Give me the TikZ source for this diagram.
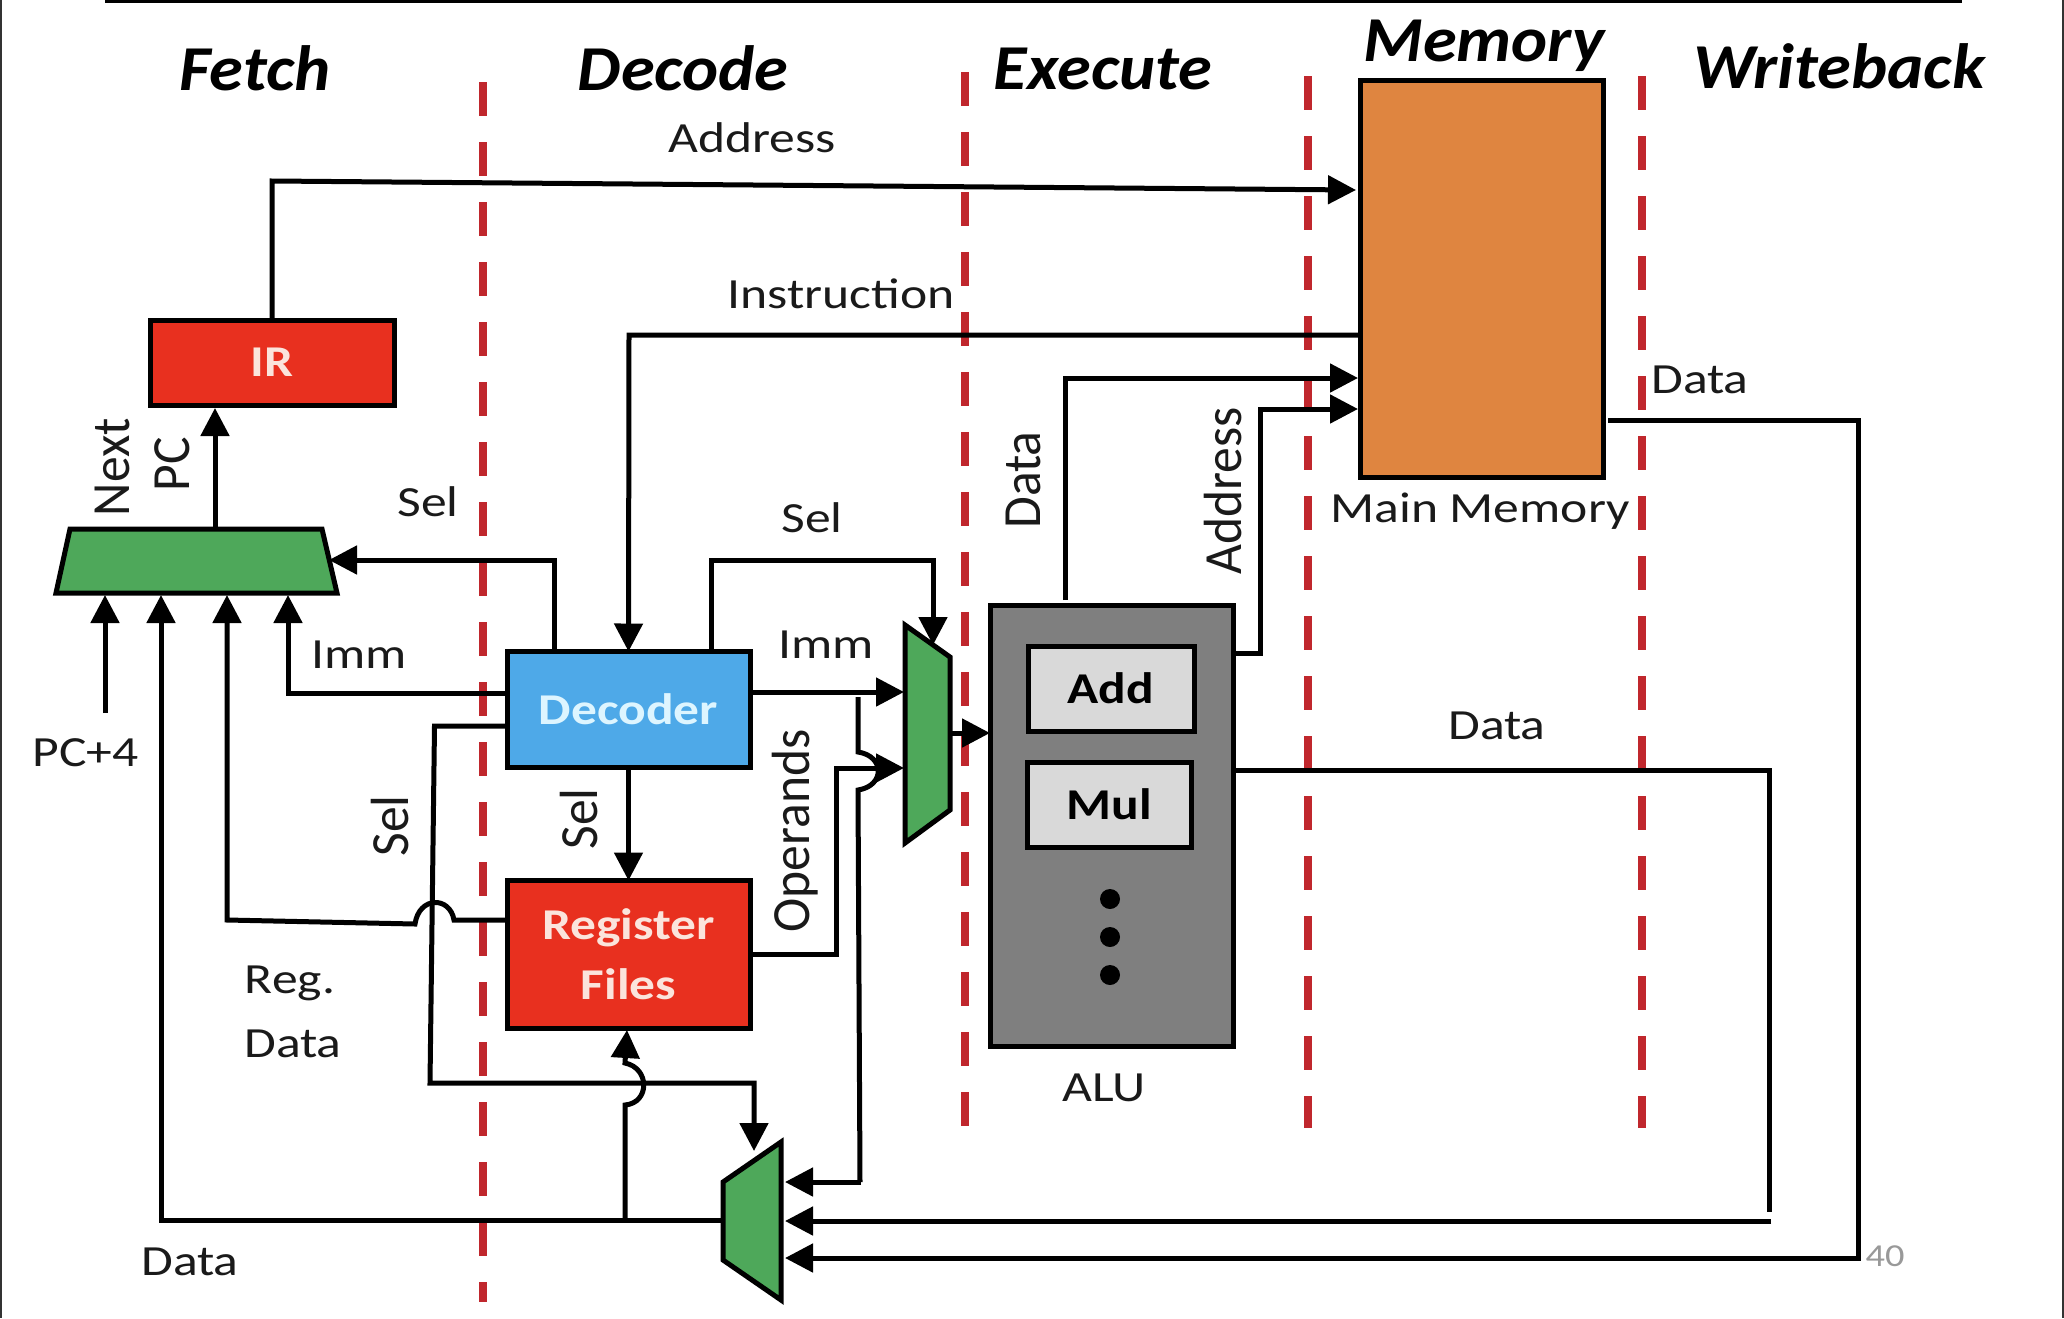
\documentclass[tikz,border=0pt]{standalone}
\usepackage{graphicx}
\usepackage{fontspec}
\setmainfont{Carlito}
\usetikzlibrary{arrows.meta}
\definecolor{txt}{HTML}{1A1A1A}
\definecolor{redbox}{HTML}{E8301F}
\definecolor{bluebox}{HTML}{4EA9E8}
\definecolor{orangebox}{HTML}{DF8540}
\definecolor{muxgreen}{HTML}{4EA85A}
\definecolor{alugrey}{HTML}{7F7F7F}
\definecolor{unitgrey}{HTML}{D9D9D9}
\definecolor{stage}{HTML}{C0272D}
\definecolor{declabel}{HTML}{DDF5FF}
\definecolor{redlabel}{HTML}{FBE4DC}
\newcommand{\wideboxtext}[1]{\scalebox{1.17}[1]{#1}}
\tikzset{
  lab/.style={font=\fontsize{43}{50}\selectfont, text=txt, inner sep=0pt, xscale=1.2},
  rlab/.style={font=\fontsize{43}{50}\selectfont, text=txt, inner sep=0pt, xscale=1.25, yscale=1.2, rotate=90},
  head/.style={font=\fontsize{64}{70}\selectfont\bfseries\itshape, text=black, inner sep=0pt, xscale=1.07},
  blk/.style={draw=black, line width=5pt, inner sep=0pt, outer sep=0pt, align=center},
  muxframe/.style={inner sep=0pt, outer sep=0pt},
  muxshape/.style={draw=black, fill=muxgreen, line width=5pt, line join=miter},
  wire/.style={draw=black, line width=5pt, line join=miter},
  arr/.style={wire, -{Triangle[length=28pt,width=28pt]}},
  stageline/.style={draw=stage, line width=8pt, dash pattern=on 34pt off 26pt},
}
\begin{document}
\begin{tikzpicture}[x=1pt,y=-1pt]
\useasboundingbox (0,0) rectangle (2064,1318);
\fill[white] (0,0) rectangle (2064,1318);
% frame
\draw[black,line width=3pt] (105,1) -- (1962,1);
\draw[black!80,line width=2.5pt] (1,0) -- (1,1318);
\draw[black!80,line width=2pt] (2063,0) -- (2063,1318);
% stage separators
\draw[stageline] (482.5,82) -- (482.5,1302);
\draw[stageline] (965,72) -- (965,1128);
\draw[stageline] (1308,76) -- (1308,1128);
\draw[stageline] (1642,76) -- (1642,1128);
% stage titles
\node[head] (hfetch) at (255,68) {Fetch};
\node[head] (hdecode) at (683,68) {Decode};
\node[head] (hexec) at (1103,69) {Execute};
\node[head] (hmem) at (1484,46) {Memory};
\node[head] (hwb) at (1839,66) {Writeback};
% blocks
\node[blk,fill=redbox,minimum width=244pt,minimum height=85pt,text=redlabel,font=\fontsize{44}{48}\selectfont\bfseries] (ir) at (272,362.5) {\wideboxtext{IR}};
\node[blk,fill=orangebox,minimum width=243pt,minimum height=397pt] (mem) at (1481.5,278.5) {};
\node[blk,fill=bluebox,minimum width=243pt,minimum height=115.5pt,text=declabel,font=\fontsize{44}{50}\selectfont\bfseries] (decoder) at (628.5,709.25) {\wideboxtext{Decoder}};
\node[blk,fill=redbox,minimum width=243pt,minimum height=147.5pt,text=redlabel,font=\fontsize{44}{60}\selectfont\bfseries] (regs) at (628.5,954.25) {\wideboxtext{Register}\\\wideboxtext{Files}};
\node[blk,fill=alugrey,minimum width=243pt,minimum height=441pt] (alu) at (1111.5,825.5) {};
\node[blk,fill=unitgrey,minimum width=166pt,minimum height=85pt,text=black,font=\fontsize{44}{50}\selectfont\bfseries] (add) at (1111,688.5) {\wideboxtext{Add}};
\node[blk,fill=unitgrey,minimum width=164pt,minimum height=85pt,text=black,font=\fontsize{44}{50}\selectfont\bfseries] (mul) at (1109,804.5) {\wideboxtext{Mul}};
\fill[black] (1110,899) circle (10pt) (1110,937) circle (10pt) (1110,975) circle (10pt);
% multiplexers
\draw[muxshape] (70,529) -- (322,529) -- (337,593) -- (56,593) -- cycle;
\draw[muxshape] (905,625) -- (950,657) -- (950,810) -- (905,843) -- cycle;
\draw[muxshape] (781,1142) -- (781,1300) -- (723,1260) -- (723,1182) -- cycle;
\node[muxframe,minimum width=281pt,minimum height=64pt] (mux1) at (196.5,561) {};
\node[muxframe,minimum width=45pt,minimum height=218pt] (mux2) at (927.5,734) {};
\node[muxframe,minimum width=58pt,minimum height=158pt] (mux3) at (752,1221) {};
% ports
\coordinate (pc4s) at (105,713);
\coordinate (m1a) at (105,595);
\coordinate (m1b) at (161,595);
\coordinate (m1c) at (227,595);
\coordinate (m1d) at (288,595);
\coordinate (m1out) at (215,529);
\coordinate (m1sel) at (329,560);
\coordinate (m2imm) at (904,692);
\coordinate (m2op) at (904,768);
\coordinate (m2sel) at (933,645);
\coordinate (m3sel) at (754,1151);
\coordinate (m3a) at (785,1182);
\coordinate (m3b) at (785,1221);
\coordinate (m3c) at (785,1258);
\coordinate (memaddr) at (1356,190);
\coordinate (memdata) at (1358,378);
\coordinate (memaddr2) at (1358,409);
\coordinate (regin) at (627,1030);
% connectors
\draw[arr] (m1out) -- (215,408);
\draw[arr] (ir.north) -- (272,181) -- (memaddr);
\draw[arr] (mem.west |- 0,335) -- (629,335) -- (decoder.north);
\draw[arr] (1065,600) -- (1065,378) -- (memdata);
\draw[arr] (alu.east |- 0,653) -- (1260,653) -- (1260,409) -- (memaddr2);
\draw[arr] (1608,420) -- (1858,420) -- (1858,1258) -- (m3c);
\draw[wire] (1236,770) -- (1769,770) -- (1769,1212);
\draw[arr] (1771,1221) -- (m3b);
\draw[arr] (pc4s) -- (m1a);
\draw[arr] (decoder.west |- 0,693) -- (288,693) -- (m1d);
\draw[arr] (554,652) -- (554,560) -- (m1sel);
\draw[arr] (decoder.south) -- (regs.north);
\draw[arr] (regs.west |- 0,920) -- (454,920) .. controls (450,896) and (419,896) .. (415,924) -- (227,920) -- (m1c);
\draw[arr] (decoder.west |- 0,726) -- (434.5,726) -- (430,1083) -- (754,1083) -- (m3sel);
\draw[arr] (mux3.west |- 0,1220) -- (161,1220) -- (m1b);
\draw[arr] (625,1220) -- (625,1105) .. controls (650,1103) and (650,1068) .. (625,1063) -- (regin);
\draw[arr] (decoder.east |- 0,692) -- (m2imm);
\draw[wire] (858,697) -- (858,752) .. controls (885,756) and (885,786) .. (858,790) -- (860,1182);
\draw[arr] (861,1182) -- (m3a);
\draw[arr] (regs.east |- 0,954.5) -- (836,954.5) -- (836,768) -- (m2op);
\draw[arr] (711,652) -- (711,560) -- (933,560) -- (m2sel);
\draw[arr] (mux2.east |- 0,733) -- (alu.west |- 0,733);
% labels
\node[lab] (tpc4) at (85.6,753) {PC+4};
\node[lab] (taddr) at (752,138) {Address};
\node[lab] (tinstr) at (841,294) {Instruction};
\node[lab] (tdata1) at (1700,380) {Data};
\node[lab] (tmain) at (1480,511) {Main Memory};
\node[lab] (tsel1) at (428,502) {Sel};
\node[lab] (tsel2) at (812,518) {Sel};
\node[lab] (timm1) at (359,655) {Imm};
\node[lab] (timm2) at (826,645) {Imm};
\node[lab] (tdata2) at (1497,726) {Data};
\node[lab] (treg) at (290,983) {Reg.};
\node[lab] (tdata3) at (293,1044) {Data};
\node[lab] (tdata4) at (190,1262) {Data};
\node[lab] (talu) at (1104,1088) {ALU};
\node[lab,text=black!40,font=\fontsize{32}{36}\selectfont] (tnum) at (1885,1256) {40};
\node[rlab] (tnext) at (112,467) {Next};
\node[rlab] (tpc) at (172,464) {PC};
\node[rlab] (tdatar) at (1023,480) {Data};
\node[rlab] (taddrr) at (1223,491) {Address};
\node[rlab] (toper) at (795,831) {Operands};
\node[rlab] (tselr1) at (390,826) {Sel};
\node[rlab] (tselr2) at (579,819) {Sel};
\end{tikzpicture}
\end{document}
